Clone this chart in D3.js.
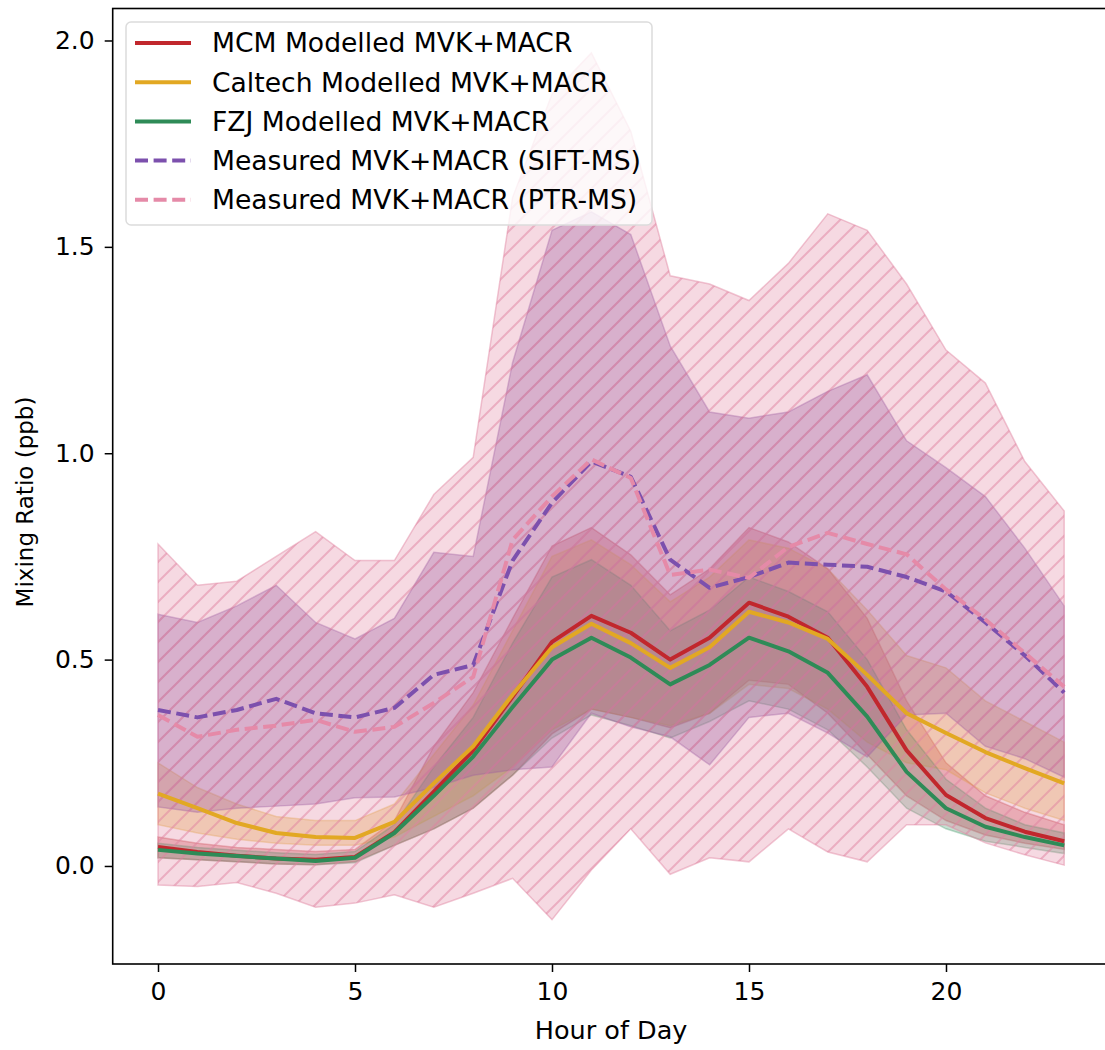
<!DOCTYPE html>
<html>
<head>
<meta charset="utf-8">
<script src="https://cdnjs.cloudflare.com/ajax/libs/d3/7.8.5/d3.min.js"></script>
<style>
	body { margin: 0; background: #fff; }
	svg { display: block; font-family: "DejaVu Sans", sans-serif; }
</style>
</head>
<body>
<div id="chart"></div>
<script>
// Hours of the day
const hours = [0,1,2,3,4,5,6,7,8,9,10,11,12,13,14,15,16,17,18,19,20,21,22,23];

// Modelled MVK+MACR (ppb) with spread
const mcm     = [0.046,0.034,0.025,0.018,0.015,0.022,0.082,0.18,0.28,0.41,0.543,0.606,0.565,0.50,0.553,0.638,0.604,0.553,0.434,0.28,0.172,0.116,0.083,0.06];
const mcmLow  = [0.02,0.015,0.01,0.005,0.003,0.01,0.05,0.09,0.14,0.22,0.32,0.38,0.36,0.335,0.37,0.45,0.44,0.37,0.27,0.17,0.11,0.075,0.055,0.04];
const mcmHigh = [0.07,0.055,0.045,0.04,0.035,0.04,0.11,0.29,0.42,0.60,0.775,0.82,0.754,0.657,0.72,0.82,0.785,0.72,0.60,0.40,0.25,0.17,0.13,0.10];

const caltech     = [0.175,0.14,0.104,0.08,0.07,0.068,0.107,0.2,0.29,0.415,0.53,0.587,0.54,0.48,0.53,0.616,0.59,0.55,0.463,0.37,0.322,0.276,0.237,0.20];
const caltechLow  = [0.10,0.08,0.065,0.055,0.05,0.05,0.07,0.12,0.17,0.24,0.33,0.38,0.36,0.34,0.37,0.44,0.43,0.38,0.30,0.25,0.233,0.177,0.14,0.11];
const caltechHigh = [0.25,0.19,0.15,0.12,0.11,0.11,0.15,0.27,0.39,0.57,0.75,0.79,0.73,0.64,0.70,0.79,0.77,0.72,0.62,0.51,0.48,0.40,0.35,0.30];

const fzj     = [0.039,0.03,0.024,0.018,0.012,0.02,0.08,0.17,0.265,0.385,0.50,0.553,0.505,0.44,0.487,0.553,0.52,0.468,0.362,0.228,0.14,0.095,0.07,0.05];
const fzjLow  = [0.02,0.015,0.01,0.005,0.003,0.008,0.05,0.09,0.14,0.22,0.31,0.366,0.34,0.31,0.35,0.40,0.38,0.33,0.24,0.14,0.09,0.06,0.045,0.03];
const fzjHigh = [0.055,0.045,0.038,0.032,0.028,0.035,0.10,0.24,0.36,0.54,0.70,0.742,0.68,0.57,0.62,0.70,0.665,0.616,0.50,0.33,0.21,0.14,0.10,0.08];

// Measured MVK+MACR (ppb) with spread
const sift     = [0.378,0.36,0.378,0.405,0.37,0.36,0.383,0.463,0.487,0.74,0.88,0.98,0.943,0.742,0.674,0.70,0.735,0.73,0.725,0.70,0.665,0.59,0.51,0.42];
const siftLow  = [0.143,0.13,0.14,0.145,0.15,0.165,0.167,0.19,0.22,0.233,0.24,0.37,0.337,0.313,0.245,0.36,0.37,0.322,0.264,0.366,0.37,0.29,0.26,0.215];
const siftHigh = [0.61,0.59,0.63,0.68,0.59,0.55,0.60,0.76,0.75,1.22,1.54,1.585,1.53,1.26,1.10,1.085,1.10,1.15,1.19,1.03,0.965,0.895,0.77,0.63];

const ptr     = [0.366,0.313,0.33,0.34,0.354,0.325,0.337,0.395,0.458,0.79,0.895,0.985,0.94,0.705,0.718,0.698,0.773,0.807,0.78,0.755,0.67,0.597,0.516,0.434];
const ptrLow  = [-0.046,-0.05,-0.04,-0.066,-0.10,-0.09,-0.07,-0.10,-0.066,-0.03,-0.13,-0.01,0.09,-0.02,0.02,0.01,0.09,0.034,0.01,0.10,0.10,0.056,0.027,0.002];
const ptrHigh = [0.78,0.68,0.69,0.75,0.81,0.74,0.74,0.90,0.99,1.62,1.87,1.97,1.78,1.43,1.41,1.37,1.46,1.58,1.54,1.41,1.25,1.17,0.98,0.86];

const xTicks = [0,5,10,15,20];
const yTicks = [0.0,0.5,1.0,1.5,2.0];

const legendLabels = [
	"MCM Modelled MVK+MACR",
	"Caltech Modelled MVK+MACR",
	"FZJ Modelled MVK+MACR",
	"Measured MVK+MACR (SIFT-MS)",
	"Measured MVK+MACR (PTR-MS)"
];

//Canvas
const w = 1105;
const h = 1050;
const pLeft = 112.7, pRight = 1109.5, pTop = 8.5, pBottom = 964;

const svg = d3.select("#chart")
	.append("svg")
	.attr("width", w)
	.attr("height", h);

const xScale = d3.scaleLinear().domain([-1.15, 24.15]).range([pLeft, pRight]);
const yScale = d3.scaleLinear().domain([-0.2375, 2.0775]).range([pBottom, pTop]);

//Hatch patterns
const defs = svg.append("defs");
function hatch(id, col)
{
	const p = defs.append("pattern")
		.attr("id", id)
		.attr("patternUnits", "userSpaceOnUse")
		.attr("width", 20)
		.attr("height", 20);
	p.append("path")
		.attr("d", "M-5,5 l10,-10 M0,20 l20,-20 M15,25 l10,-10")
		.attr("stroke", col)
		.attr("stroke-width", 2)
		.attr("fill", "none");
}
hatch("hatch-sift", "rgba(120,60,140,0.3)");
hatch("hatch-ptr", "rgba(224,130,160,0.5)");

defs.append("clipPath").attr("id", "plot-clip")
	.append("rect")
	.attr("x", pLeft).attr("y", pTop)
	.attr("width", pRight - pLeft).attr("height", pBottom - pTop);

const plot = svg.append("g").attr("clip-path", "url(#plot-clip)");

const band = (lo, hi) => d3.area()
	.x((d, i) => xScale(hours[i]))
	.y0((d, i) => yScale(lo[i]))
	.y1((d, i) => yScale(hi[i]))(hours);

const line = (vals) => d3.line()
	.x((d, i) => xScale(hours[i]))
	.y((d, i) => yScale(vals[i]))(hours);

//Model bands
const modelBands = [
	{lo: mcmLow, hi: mcmHigh, col: "rgba(192,40,43,0.3)", edge: "rgba(192,40,43,0.3)"},
	{lo: caltechLow, hi: caltechHigh, col: "rgba(226,168,35,0.3)", edge: "rgba(226,168,35,0.3)"},
	{lo: fzjLow, hi: fzjHigh, col: "rgba(46,139,87,0.27)", edge: "rgba(46,139,87,0.3)"}
];
modelBands.forEach((b) =>
{
	plot.append("path")
		.attr("d", band(b.lo, b.hi))
		.attr("fill", b.col)
		.attr("stroke", b.edge)
		.attr("stroke-width", 1.5);
});

//Measured bands, hatched
const measBands = [
	{lo: siftLow, hi: siftHigh, col: "rgba(128,78,160,0.33)", edge: "rgba(128,78,160,0.35)", hatch: "url(#hatch-sift)"},
	{lo: ptrLow, hi: ptrHigh, col: "rgba(224,130,160,0.3)", edge: "rgba(224,130,160,0.45)", hatch: "url(#hatch-ptr)"}
];
measBands.forEach((b) =>
{
	plot.append("path")
		.attr("d", band(b.lo, b.hi))
		.attr("fill", b.col)
		.attr("stroke", b.edge)
		.attr("stroke-width", 1.5);
	plot.append("path")
		.attr("d", band(b.lo, b.hi))
		.attr("fill", b.hatch)
		.attr("stroke", "none");
});

//Lines
const series = [
	{vals: mcm, col: "#c1272d", dash: null},
	{vals: caltech, col: "#e2a823", dash: null},
	{vals: fzj, col: "#2e8b57", dash: null},
	{vals: sift, col: "#7c50ad", dash: "13,5.6"},
	{vals: ptr, col: "#e58aa8", dash: "13,5.6"}
];
series.forEach((s) =>
{
	plot.append("path")
		.attr("d", line(s.vals))
		.attr("fill", "none")
		.attr("stroke", s.col)
		.attr("stroke-width", 4)
		.attr("stroke-dasharray", s.dash)
		.attr("stroke-linejoin", "round");
});

//Axes
const xAxis = d3.axisBottom(xScale).tickValues(xTicks).tickFormat(d3.format("d")).tickSize(8).tickPadding(10);
const yAxis = d3.axisLeft(yScale).tickValues(yTicks).tickFormat(d3.format(".1f")).tickSize(8).tickPadding(10);

const gx = svg.append("g")
	.attr("transform", "translate(0," + pBottom + ")")
	.call(xAxis);
const gy = svg.append("g")
	.attr("transform", "translate(" + pLeft + ",0)")
	.call(yAxis);
[gx, gy].forEach((g) =>
{
	g.select(".domain").remove();
	g.selectAll("line").attr("stroke", "#000").attr("stroke-width", 1.5);
	g.selectAll("text").attr("fill", "#000").style("font-size", "25px").style("font-family", "DejaVu Sans");
});

//Frame
svg.append("rect")
	.attr("x", pLeft).attr("y", pTop)
	.attr("width", pRight - pLeft).attr("height", pBottom - pTop)
	.attr("fill", "none")
	.attr("stroke", "#000")
	.attr("stroke-width", 1.6);

svg.append("text")
	.attr("x", (pLeft + pRight) / 2)
	.attr("y", 1039)
	.attr("text-anchor", "middle")
	.style("font-size", "25.5px")
	.text("Hour of Day");

svg.append("text")
	.attr("transform", "translate(33,502) rotate(-90)")
	.attr("text-anchor", "middle")
	.style("font-size", "23px")
	.text("Mixing Ratio (ppb)");

//Legend
const legend = svg.append("g").attr("transform", "translate(126,22)");
legend.append("rect")
	.attr("width", 526)
	.attr("height", 203)
	.attr("rx", 5)
	.attr("fill", "rgba(255,255,255,0.8)")
	.attr("stroke", "#dcdcdc")
	.attr("stroke-width", 1.5);

const item = legend.selectAll(".legend")
	.data(legendLabels)
	.enter().append("g")
	.attr("class", "legend")
	.attr("transform", (d, i) => "translate(0," + (21 + i * 39.2) + ")");

item.append("line")
	.attr("x1", 9).attr("x2", 65)
	.attr("stroke", (d, i) => series[i].col)
	.attr("stroke-width", 4)
	.attr("stroke-dasharray", (d, i) => series[i].dash);

item.append("text")
	.attr("x", 86)
	.attr("dy", "0.35em")
	.style("font-size", "26.6px")
	.text((d) => d);
</script>
</body>
</html>
